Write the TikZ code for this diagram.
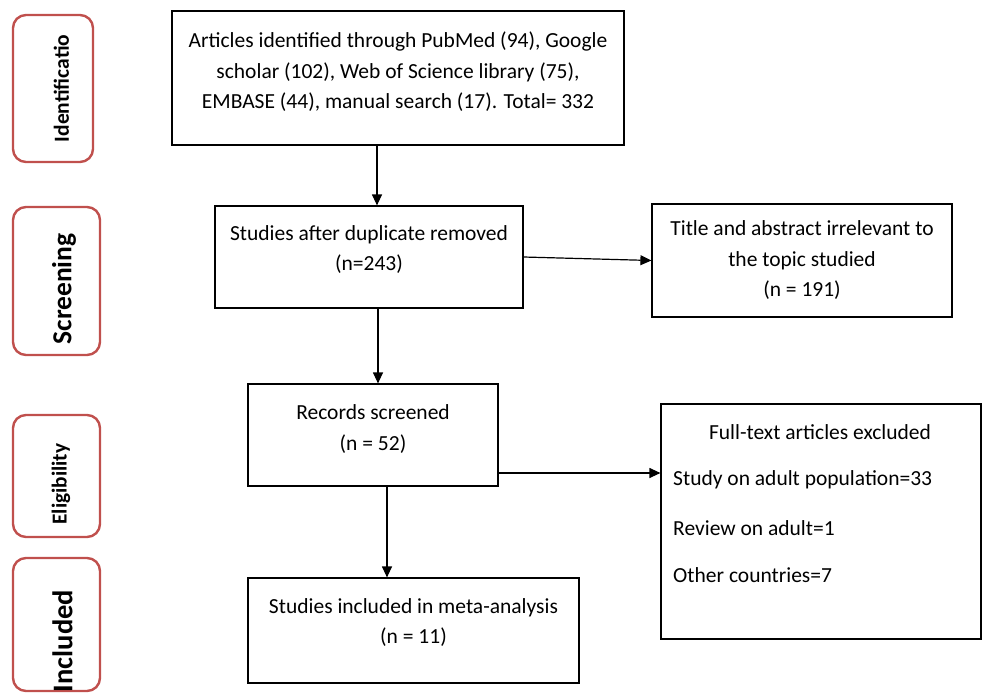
\documentclass[tikz,border=0pt]{standalone}
\usepackage{fontspec}
\setmainfont{Carlito}
\usetikzlibrary{arrows.meta}

\definecolor{phasered}{RGB}{192,80,77}
\tikzset{
    box/.style={draw, line width=1.2pt, align=center, inner sep=0pt,
        font=\fontsize{21.5}{30.5}\selectfont},
    phase/.style={draw=phasered, line width=2.4pt, rounded corners=13pt, inner sep=0pt},
    phasetext/.style={rotate=90, inner sep=0pt, font=\bfseries\fontsize{#1}{#1}\selectfont},
    item/.style={anchor=west, inner sep=0pt, font=\fontsize{21.5}{21.5}\selectfont},
    flow/.style={-{Triangle[length=11pt,width=10pt]}, line width=1.2pt}
}

\begin{document}
\begin{tikzpicture}[x=1pt, y=-1pt]
    \useasboundingbox (0,0) rectangle (982,693);

    % stages on the left
    \node (ident) at (53,88.5) [phase, minimum width=80pt, minimum height=147pt] {};
    \node (screen) at (56.5,281) [phase, minimum width=87pt, minimum height=148pt] {};
    \node (elig) at (56.5,476) [phase, minimum width=87pt, minimum height=122pt] {};
    \node (incl) at (56.5,624.5) [phase, minimum width=87pt, minimum height=133pt] {};

    \node (identtxt) at (61.5,88.5) [phasetext=21.5] {Identificatio};
    \node (screentxt) at (64,289) [phasetext=27.5] {Screening};
    \node (eligtxt) at (61,484) [phasetext=21.3] {Eligibility};
    \node (incltxt) at (62.5,641) [phasetext=28.5] {Included};

    % flow boxes
    \node (found) at (398,78) [box, minimum width=452pt, minimum height=134pt]
        {Articles identified through PubMed (94), Google\\
         scholar (102), Web of Science library (75),\\
         EMBASE (44), manual search (17). Total= 332\\[-15.5pt]};
    \node (dedup) at (369,257) [box, minimum width=308pt, minimum height=102pt]
        {Studies after duplicate removed\\ (n=243)\\[-12.5pt]};
    \node (title) at (802,260.5) [box, minimum width=300pt, minimum height=113pt]
        {Title and abstract irrelevant to\\ the topic studied\\ (n = 191)};
    \node (screened) at (373,435) [box, minimum width=250pt, minimum height=102pt]
        {Records screened\\ (n = 52)\\[-15.5pt]};
    \node (excl) at (821,521.5) [box, minimum width=320pt, minimum height=235pt] {};
    \node (included) at (413.5,630.5) [box, minimum width=331pt, minimum height=105pt]
        {Studies included in meta-analysis\\ (n = 11)\\[-11.5pt]};

    % excluded reasons
    \node (exclhead) at (820,432) [inner sep=0pt, font=\fontsize{21.5}{21.5}\selectfont]
        {Full-text articles excluded};
    \node (adult) at (673,480) [item] {Study on adult population=33};
    \node (review) at (673,528) [item] {Review on adult=1};
    \node (other) at (673,575) [item] {Other countries=7};

    % arrows
    \draw ([xshift=-21pt]found.south) edge[flow] ([xshift=8pt]dedup.north);
    \draw (dedup.east) edge[flow] (title.west);
    \draw ([xshift=9pt]dedup.south) edge[flow] ([xshift=5pt]screened.north);
    \draw ([yshift=-38pt]screened.east) edge[flow] ([yshift=48.5pt]excl.west);
    \draw ([xshift=14pt]screened.south) edge[flow] ([xshift=-26.5pt]included.north);
\end{tikzpicture}
\end{document}
